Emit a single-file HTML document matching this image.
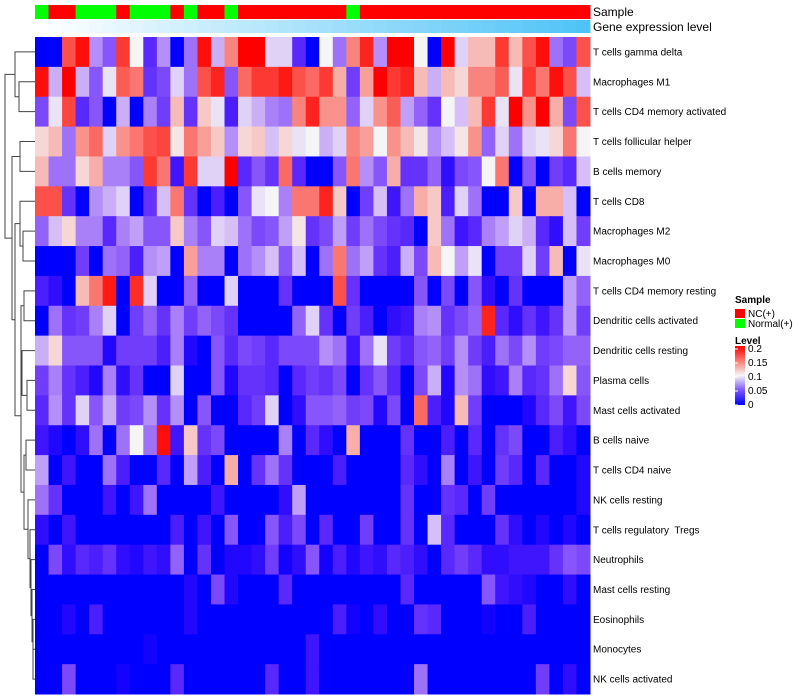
<!DOCTYPE html>
<html><head><meta charset="utf-8"><style>
body{margin:0;background:#fff;}
svg{display:block;font-family:"Liberation Sans",sans-serif;}
svg text{white-space:pre;}
</style></head><body>
<svg id="chart" width="800" height="700" xmlns="http://www.w3.org/2000/svg"></svg>
<script>
const cellTypes=["T cells gamma delta","Macrophages M1","T cells CD4 memory activated","T cells follicular helper","B cells memory","T cells CD8","Macrophages M2","Macrophages M0","T cells CD4 memory resting","Dendritic cells activated","Dendritic cells resting","Plasma cells","Mast cells activated","B cells naive","T cells CD4 naive","NK cells resting","T cells regulatory  Tregs","Neutrophils","Mast cells resting","Eosinophils","Monocytes","NK cells activated"];
const sampleGroups=["N","C","C","N","N","N","C","N","N","N","C","N","C","C","N","C","C","C","C","C","C","C","C","N","C","C","C","C","C","C","C","C","C","C","C","C","C","C","C","C","C"];
const geneLevel=[0,0.02,0.04,0.06,0.08,0.1,0.12,0.14,0.16,0.18,0.2,0.22,0.24,0.26,0.28,0.3,0.32,0.34,0.36,0.38,0.4,0.42,0.44,0.46,0.48,0.5,0.52,0.54,0.56,0.58,0.6,0.62,0.64,0.66,0.68,0.7,0.72,0.74,0.76,0.78,0.8];
const legendTicks=[0.2,0.15,0.1,0.05,0];
const values=[
[0,0,.16,.19,.07,.05,.17,.1,.03,.07,0,.06,.19,.08,.14,.2,.2,.09,.09,.03,0,.1,.06,.14,.18,.07,.2,.2,.1,0,.2,.09,.12,.12,.17,.12,.16,.19,.06,.045,.16],
[.19,.08,.2,.08,.05,.095,.155,.145,.035,.045,.09,.06,.16,.18,.05,.15,.17,.17,.185,.16,.15,.17,.125,.04,.13,.2,.17,.18,.12,.08,.12,.11,.14,.14,.155,.095,.17,.145,.19,.16,.085],
[.045,.095,.165,.03,.05,0,.08,0,.065,.04,.12,.035,.115,.095,.025,.09,.08,.065,.06,.14,.18,.135,.135,.055,.09,.135,.155,.075,.055,.035,.1,.085,.12,.17,.095,.2,.135,.2,.125,.045,.16],
[.11,.12,.06,.135,.15,.09,.135,.145,.16,.165,.105,.145,.13,.115,.07,.11,.115,.085,.11,.095,.1,.08,.09,.14,.13,.1,.135,.12,.105,.07,.085,.105,.135,.055,.09,.06,.09,.095,.11,.145,.1],
[.12,.06,.06,.11,.125,.065,.065,.05,.17,.145,.02,.17,.09,.09,.2,.03,.05,.035,.15,.03,0,0,.05,.145,.07,.05,.125,.035,.035,.055,.015,.045,.05,.1,.145,0,.05,0,.04,.03,.085],
[.16,.16,.035,0,.07,.08,.09,0,.035,.085,.145,.035,0,.025,0,.05,.095,.1,.065,.145,.145,.18,.115,0,.04,.085,.02,.06,.125,.115,.025,.09,.06,0,0,.115,0,.125,.125,.085,0],
[.055,.085,.11,.065,.065,.03,.065,.075,.05,.05,.115,.065,.05,.09,.085,.06,.045,.05,.075,.105,.035,.045,.075,.04,.06,.045,.035,.03,0,.115,.06,.02,.03,.065,.075,.09,.08,.03,.015,.085,.04],
[0,0,0,.04,0,.06,.055,.025,.07,.075,0,.13,.065,.065,0,.06,.07,.085,.05,.085,0,.06,.145,.06,.075,.035,.025,.08,.045,.12,.1,.075,.095,0,.04,.04,.09,.04,.12,0,.095],
[.025,.015,0,.12,.145,.185,0,.175,.09,0,0,.055,0,0,.09,0,0,0,.035,0,0,0,.16,.035,0,0,0,0,.05,0,.045,0,.05,.015,0,.035,0,0,0,.075,.055],
[0,.06,.035,.04,.065,.09,0,.04,.055,.035,.065,.04,.055,.045,.035,0,0,0,0,.055,.09,.035,0,.04,.025,0,.015,.02,.065,.07,.035,.045,.055,.18,.03,.015,.035,.02,.035,.075,.04],
[.08,.11,.05,.05,.05,.01,.04,.04,.04,.025,.065,.01,0,.05,.03,.045,.04,.03,.045,.045,.045,.07,.06,.02,.06,.095,.04,.03,.05,.055,.04,.07,.04,.025,.06,.045,.07,.04,.045,.055,.055],
[.04,.065,.035,.025,.01,.065,.015,.035,0,0,.09,0,0,.05,.01,.035,.035,.03,0,.03,.04,.035,.045,0,.035,.05,.03,0,.045,.08,.01,.07,.06,.015,.02,.065,.03,.035,.06,.11,.05],
[.03,.07,.035,.09,.05,.08,.04,.045,.07,.035,.07,0,.05,0,0,.03,.04,.09,0,.015,.05,.05,.055,.04,.045,.01,.045,0,.15,.025,.01,.12,.04,0,0,0,.01,.03,.045,.02,.045],
[.02,.01,0,.015,.06,0,.06,.1,.06,.19,.02,.115,.035,.045,0,0,0,0,.065,0,.03,.015,0,.125,0,0,0,.035,0,0,.025,0,.03,0,.035,.045,0,0,.025,.015,0],
[.075,0,.02,0,0,.06,.025,0,0,.03,0,.075,.025,0,.125,0,.035,.06,.035,0,0,0,.025,0,0,0,0,.03,.015,0,.065,0,.02,0,.04,.03,0,.03,0,0,.01],
[.06,.035,0,0,0,.02,0,.02,.06,0,0,0,0,.02,0,0,0,0,.015,.075,0,0,0,0,0,0,0,.035,0,0,.035,.03,0,.04,0,0,0,0,0,0,.01],
[.015,0,.02,0,0,0,0,0,0,0,.025,0,.02,0,.05,0,0,.05,.025,.045,0,.03,0,0,.04,0,0,.035,0,.085,.03,0,0,0,.035,.015,0,.01,0,.01,0],
[0,.045,.015,.03,.025,.035,.015,.01,.02,.015,.055,0,.035,0,.01,.01,.015,.04,.005,.015,.05,.005,.025,.01,.02,.015,.03,.025,.015,0,.03,.04,.03,.015,.015,.02,.02,.02,.035,.05,.045],
[0,0,0,0,0,0,0,0,0,0,0,.01,0,.045,.01,0,0,0,.03,0,0,0,0,0,0,0,0,.03,0,0,0,0,0,.05,.02,.015,.01,0,0,.015,0],
[0,0,.01,0,.025,0,0,0,0,0,0,.01,0,0,0,0,0,0,0,0,0,0,.025,.005,0,.015,0,0,.035,.03,0,0,0,.005,0,0,.025,0,0,0,0],
[0,0,0,0,0,0,0,0,.005,0,0,0,0,0,0,0,0,0,0,0,.02,0,0,0,0,0,0,0,0,0,0,0,0,0,0,0,0,0,0,0,0],
[0,0,.045,0,0,0,.005,0,0,0,.03,0,0,0,0,0,0,.03,0,0,.02,0,0,0,0,0,0,0,.06,0,0,0,0,0,0,0,0,.04,0,.015,0]
];
const NS="http://www.w3.org/2000/svg";
const svg=document.getElementById('chart');
const X0=35,X1=590,Y0=37,Y1=694;
const nC=values[0].length,nR=values.length;
const cw=(X1-X0)/nC,ch=(Y1-Y0)/nR;
const xPos=i=>X0+i*cw, yPos=r=>Y0+r*ch;
function mk(t,a){const e=document.createElementNS(NS,t);for(const k in a)e.setAttribute(k,a[k]);svg.appendChild(e);return e;}
function col(v){let t=Math.max(0,Math.min(1,v/0.2));let r,g,b;
 if(t<0.5){const s=t/0.5;r=245*Math.pow(s,0.85);g=245*Math.pow(s,1.5);b=255-10*s;}
 else{const s=(t-0.5)/0.5;r=245+10*s;g=245*Math.pow(1-s,1.2);b=245*Math.pow(1-s,1.3);}
 return `rgb(${r|0},${g|0},${b|0})`;}
sampleGroups.forEach((s,i)=>{const e=mk('rect',{x:xPos(i),y:5,width:cw+0.5,height:14,fill:s==="C"?"#ff0000":"#00ff00"});

});
geneLevel.forEach((g,i)=>{const r=Math.round(255-(255-79)*g/0.8),gg=Math.round(255-(255-195)*g/0.8),b=Math.round(255-(255-247)*g/0.8);
const e=mk('rect',{x:xPos(i),y:20,width:cw+0.5,height:13,fill:`rgb(${r},${gg},${b})`});

});
let t=mk('text',{x:593,y:16,'font-size':12,fill:'#000'});t.textContent="Sample";


t=mk('text',{x:593,y:31,'font-size':12,fill:'#000'});t.textContent="Gene expression level";


values.forEach((row,r)=>row.forEach((v,c)=>{const e=mk('rect',{x:xPos(c),y:yPos(r),width:cw+0.5,height:ch+0.5,fill:col(v)});

}));
cellTypes.forEach((n,r)=>{const e=mk('text',{x:593,y:yPos(r)+ch/2+3.5,'font-size':10,fill:'#000'});e.textContent=n;

});
const nodes=cellTypes.map((_,r)=>({y:yPos(r)+ch/2,x:35}));
const merges=[[1,2,19],[0,22,15],[3,4,20],[6,7,23],[5,25,20],[11,12,27],[10,27,22],[8,9,24],[29,28,21],[13,14,26],[20,21,33],[19,32,33],[18,33,32],[17,34,31],[16,35,30],[15,36,28],[31,37,24],[30,38,21],[26,39,15],[24,40,12],[23,41,5]];
merges.forEach(([a,b,x])=>{const A=nodes[a],B=nodes[b];
 const p=mk('path',{d:`M${A.x},${A.y}H${x}V${B.y}H${B.x}`,fill:'none',stroke:'#444','stroke-width':1});
 
 
 nodes.push({x:x,y:(A.y+B.y)/2});});
t=mk('text',{x:735,y:303,'font-size':10,'font-weight':'bold'});t.textContent="Sample";


[["#ff0000","NC(+)",309],["#00ff00","Normal(+)",319]].forEach(([c,l,y])=>{
 const r=mk('rect',{x:735,y:y,width:10,height:9,fill:c});
 
 
 const tx=mk('text',{x:748,y:y+8,'font-size':10});tx.textContent=l;
 
 });
t=mk('text',{x:735,y:344,'font-size':10,'font-weight':'bold'});t.textContent="Level";


const defs=mk('defs',{});defs.innerHTML='<linearGradient id="lg" x1="0" y1="1" x2="0" y2="0"><stop offset="0" stop-color="#0000ff"/><stop offset="0.25" stop-color="#7a55fa"/><stop offset="0.5" stop-color="#f5f5f5"/><stop offset="0.75" stop-color="#fa7a70"/><stop offset="1" stop-color="#ff0000"/></linearGradient>';
const cb=mk('rect',{x:735,y:346,width:10,height:59,fill:'url(#lg)'});


legendTicks.forEach(v=>{const y=405-v/0.2*56;
 const l=mk('line',{x1:735,x2:738,y1:y,y2:y,stroke:'#fff'});
 
 
 const tx=mk('text',{x:748,y:y+3,'font-size':10});tx.textContent=String(v);
 
 });
</script>
</body></html>
